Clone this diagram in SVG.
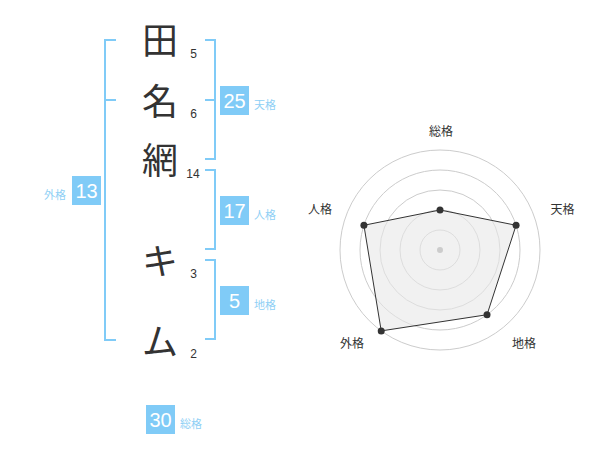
<svg xmlns="http://www.w3.org/2000/svg" width="600" height="470" viewBox="0 0 600 470">
<style>
.ch{font-family:"Noto Sans CJK JP","Noto Sans",sans-serif;font-size:36px;fill:#333;text-anchor:middle}
.st{font-family:"Liberation Sans","Noto Sans",sans-serif;font-size:12px;fill:#333;text-anchor:middle}
.br{fill:none;stroke:#80cbf7;stroke-width:2}
.bx{fill:#80cbf7}
.bn{font-family:"Liberation Sans","Noto Sans",sans-serif;font-size:20px;fill:#fff;text-anchor:middle}
.lb{font-family:"Noto Sans CJK JP",sans-serif;font-size:11px;fill:#8fd0f5}
.ring{fill:none;stroke:#ccc;stroke-width:1}
.rl{font-family:"Noto Sans CJK JP",sans-serif;font-size:12px;fill:#333;text-anchor:middle}
</style>
<rect width="600" height="470" fill="#fff"/>
<g id="name">
<g id="c1"><text class="ch" x="160" y="54">田</text><text class="st" x="193.5" y="58">5</text></g>
<g id="c2"><text class="ch" x="160" y="115">名</text><text class="st" x="193.5" y="118">6</text></g>
<g id="c3"><text class="ch" x="160" y="174">網</text><text class="st" x="193" y="178">14</text></g>
<g id="c4"><text class="ch" x="160" y="275">キ</text><text class="st" x="193.5" y="277.5">3</text></g>
<g id="c5"><text class="ch" x="160" y="355">ム</text><text class="st" x="193.5" y="357.5">2</text></g>
</g>
<g id="connectors">
<path class="br" d="M116,40 H105 V340 H116 M105,100 H116"/>
<path class="br" d="M205,40 H215 V159 H205 M205,100 H215"/>
<path class="br" d="M205,170 H215 V249 H205"/>
<path class="br" d="M205,260 H215 V339 H205"/>
</g>
<g id="tenkaku"><rect class="bx" x="220" y="86" width="29" height="29"/><text class="bn" x="234.5" y="108">25</text><text class="lb" x="254" y="109">天格</text></g>
<g id="jinkaku"><rect class="bx" x="220" y="196" width="29" height="29"/><text class="bn" x="234.5" y="218">17</text><text class="lb" x="254" y="219">人格</text></g>
<g id="chikaku"><rect class="bx" x="220" y="286" width="29" height="29"/><text class="bn" x="234.5" y="308">5</text><text class="lb" x="254" y="309">地格</text></g>
<g id="gaikaku"><rect class="bx" x="72" y="176" width="29" height="29"/><text class="bn" x="86.5" y="198">13</text><text class="lb" x="66" y="199" text-anchor="end">外格</text></g>
<g id="soukaku"><rect class="bx" x="146" y="405" width="29" height="29"/><text class="bn" x="160.5" y="427">30</text><text class="lb" x="180" y="428">総格</text></g>
<g id="radar">
<circle class="ring" cx="440" cy="250" r="20"/>
<circle class="ring" cx="440" cy="250" r="40"/>
<circle class="ring" cx="440" cy="250" r="60"/>
<circle class="ring" cx="440" cy="250" r="80"/>
<circle class="ring" cx="440" cy="250" r="100"/>
<polygon points="440,210 516.08,225.28 487.02,314.72 381.22,330.9 363.92,225.28" fill="#e8e8e8" fill-opacity="0.6" stroke="#333" stroke-width="1"/>
<circle cx="440" cy="250" r="3" fill="#ccc"/>
<g fill="#333">
<circle cx="440" cy="210" r="3.5"/>
<circle cx="516.08" cy="225.28" r="3.5"/>
<circle cx="487.02" cy="314.72" r="3.5"/>
<circle cx="381.22" cy="330.9" r="3.5"/>
<circle cx="363.92" cy="225.28" r="3.5"/>
</g>
<text class="rl" x="441" y="136">総格</text>
<text class="rl" x="562.5" y="214">天格</text>
<text class="rl" x="524" y="347.5">地格</text>
<text class="rl" x="352" y="347.5">外格</text>
<text class="rl" x="320" y="214">人格</text>
</g>
</svg>
